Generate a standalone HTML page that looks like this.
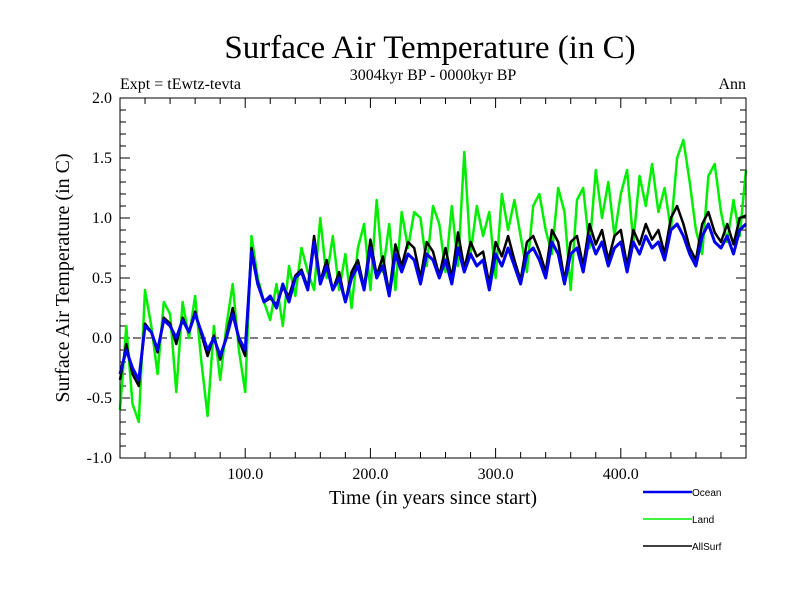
<!DOCTYPE html>
<html><head><meta charset="utf-8"><style>
body{margin:0;background:#fff}
svg{display:block;font-family:"Liberation Serif",serif}
</style></head><body>
<svg id="chart" width="800" height="600" xmlns="http://www.w3.org/2000/svg">
<rect width="800" height="600" fill="#fff"/>
<text x="430" y="58" font-size="33" text-anchor="middle">Surface Air Temperature (in C)</text>
<text x="433" y="80" font-size="16" text-anchor="middle">3004kyr BP - 0000kyr BP</text>
<text x="120" y="89" font-size="16">Expt = tEwtz-tevta</text>
<text x="746" y="89" font-size="16" text-anchor="end">Ann</text>
<text transform="translate(69,278) rotate(-90)" font-size="20" text-anchor="middle">Surface Air Temperature (in C)</text>
<text x="433" y="504" font-size="20" text-anchor="middle">Time (in years since start)</text>
<g id="ticks"></g>
<g id="series"></g>
<rect x="120" y="98" width="626" height="360" fill="none" stroke="#000" stroke-width="1"/>
<g id="legend"></g>
</svg>
<script>
const years=[];for(let y=0;y<=500;y+=5)years.push(y);
const ocean=[-0.30,-0.10,-0.25,-0.35,0.10,0.05,-0.10,0.15,0.10,0.00,0.15,0.05,0.20,0.05,-0.10,0.00,-0.15,0.00,0.20,0.00,-0.10,0.72,0.45,0.30,0.35,0.25,0.45,0.30,0.50,0.55,0.40,0.80,0.45,0.60,0.40,0.50,0.30,0.50,0.60,0.40,0.75,0.50,0.60,0.35,0.70,0.55,0.70,0.65,0.45,0.70,0.65,0.50,0.65,0.45,0.75,0.55,0.70,0.60,0.65,0.40,0.70,0.60,0.75,0.60,0.45,0.70,0.75,0.65,0.50,0.80,0.70,0.45,0.70,0.75,0.55,0.85,0.70,0.80,0.60,0.75,0.80,0.55,0.80,0.70,0.85,0.75,0.80,0.65,0.90,0.95,0.85,0.70,0.60,0.85,0.95,0.80,0.75,0.85,0.70,0.90,0.95];
const land=[-0.60,0.10,-0.55,-0.70,0.40,0.10,-0.30,0.30,0.20,-0.45,0.30,0.00,0.35,-0.20,-0.65,0.10,-0.35,0.10,0.45,-0.10,-0.45,0.85,0.50,0.30,0.15,0.45,0.10,0.60,0.35,0.75,0.55,0.40,1.00,0.50,0.85,0.40,0.70,0.25,0.75,0.95,0.40,1.15,0.55,0.95,0.40,1.05,0.75,1.05,1.00,0.60,1.10,0.95,0.55,1.10,0.60,1.55,0.70,1.10,0.85,1.05,0.50,1.20,0.90,1.15,0.85,0.55,1.10,1.20,0.90,0.70,1.25,1.05,0.40,1.15,1.25,0.75,1.40,1.00,1.30,0.85,1.20,1.40,0.80,1.35,1.10,1.45,1.05,1.25,0.90,1.50,1.65,1.30,0.90,0.70,1.35,1.45,1.05,0.80,1.15,0.85,1.40];
const allsurf=[-0.35,-0.05,-0.30,-0.40,0.12,0.05,-0.12,0.17,0.12,-0.05,0.17,0.05,0.22,0.03,-0.15,0.02,-0.18,0.02,0.25,-0.02,-0.15,0.75,0.47,0.30,0.33,0.28,0.42,0.35,0.52,0.57,0.42,0.85,0.47,0.65,0.40,0.55,0.30,0.55,0.65,0.42,0.82,0.52,0.68,0.37,0.78,0.60,0.80,0.75,0.50,0.80,0.72,0.52,0.75,0.50,0.88,0.58,0.80,0.68,0.72,0.45,0.80,0.68,0.85,0.65,0.48,0.80,0.85,0.72,0.55,0.90,0.80,0.48,0.80,0.85,0.60,0.95,0.78,0.90,0.65,0.85,0.90,0.60,0.90,0.78,0.95,0.82,0.90,0.70,1.00,1.10,0.95,0.75,0.65,0.95,1.05,0.88,0.80,0.95,0.78,1.00,1.02];
const yTickLabels=["-1.0","-0.5","0.0","0.5","1.0","1.5","2.0"];
const xTickLabels=["100.0","200.0","300.0","400.0"];
const NS="http://www.w3.org/2000/svg";
const X0=120,X1=746,Y0=98,Y1=458;
const xs=v=>X0+(v/500)*(X1-X0);
const ys=v=>Y1-((v+1)/3)*(Y1-Y0);
function mk(t,a){const e=document.createElementNS(NS,t);for(const k in a)e.setAttribute(k,a[k]);return e;}
const tg=document.getElementById('ticks');
for(let i=0;i<=30;i++){const v=-1+i*0.1,y=ys(v),L=(i%5==0)?10:6;
 const l1=mk('line',{x1:X0,x2:X0+L,y1:y,y2:y,stroke:'#000'});
 
 tg.appendChild(l1);
 const l2=mk('line',{x1:X1,x2:X1-L,y1:y,y2:y,stroke:'#000'});
 
 tg.appendChild(l2);}
yTickLabels.forEach(s=>{const t=mk('text',{x:112,y:ys(parseFloat(s))+5,'font-size':16,'text-anchor':'end'});t.textContent=s;
 
 tg.appendChild(t);});
for(let v=20;v<500;v+=20){const x=xs(v),L=(v%100==0)?10:6;
 const l1=mk('line',{x1:x,x2:x,y1:Y1,y2:Y1-L,stroke:'#000'});
 
 tg.appendChild(l1);
 const l2=mk('line',{x1:x,x2:x,y1:Y0,y2:Y0+L,stroke:'#000'});
 
 tg.appendChild(l2);}
xTickLabels.forEach(s=>{const t=mk('text',{x:xs(parseFloat(s)),y:479,'font-size':16,'text-anchor':'middle'});t.textContent=s;
 
 tg.appendChild(t);});
const zl=mk('line',{x1:X0,x2:X1,y1:ys(0),y2:ys(0),stroke:'#000','stroke-dasharray':'8,5'});

tg.appendChild(zl);
const sg=document.getElementById('series');
function line(arr,col,w,name){const p=mk('polyline',{points:arr.map((v,i)=>xs(years[i]).toFixed(1)+','+ys(v).toFixed(1)).join(' '),fill:'none',stroke:col,'stroke-width':w,'stroke-linejoin':'round'});
 
 sg.appendChild(p);}
line(land,'#00ee00',2.5,'land-line');
line(allsurf,'#000',2.5,'allsurf-line');
line(ocean,'#0000ee',3,'ocean-line');
const lg=document.getElementById('legend');
[['Ocean','#0000ee',492,2.5],['Land','#00ee00',519,1.5],['AllSurf','#000',546,1.5]].forEach(d=>{
 const l=mk('line',{x1:643,x2:692,y1:d[2],y2:d[2],stroke:d[1],'stroke-width':d[3]});
 
 lg.appendChild(l);
 const t=mk('text',{x:692,y:d[2]+4,'font-size':10,'font-family':'Liberation Sans, sans-serif'});t.textContent=d[0];
 
 lg.appendChild(t);});
</script>
</body></html>
